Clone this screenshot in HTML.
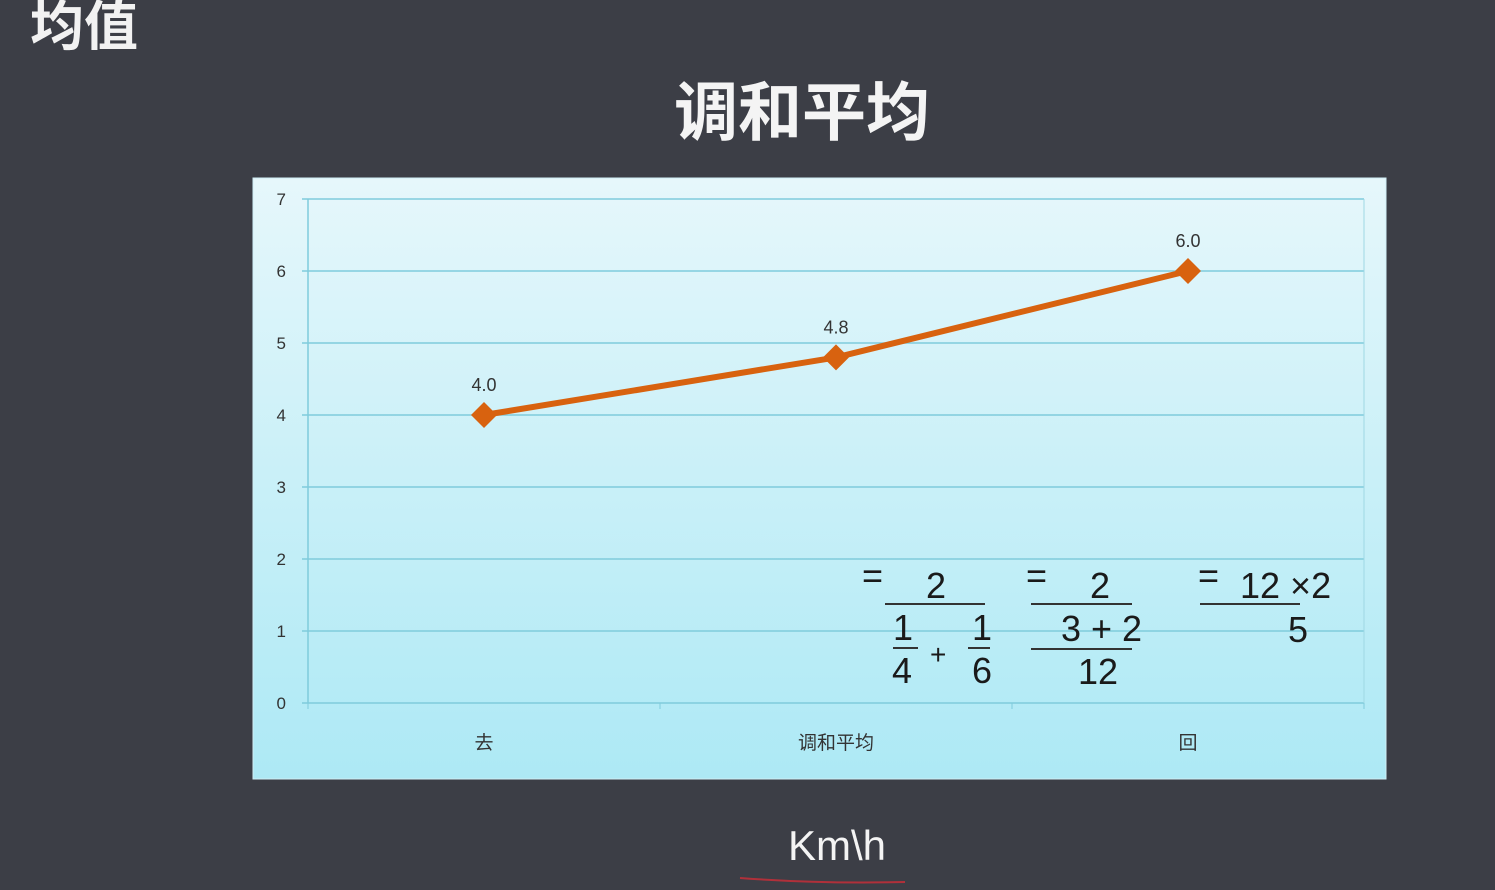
<!DOCTYPE html>
<html><head><meta charset="utf-8"><style>
body{margin:0;width:1495px;height:885px;background:#3c3e46;overflow:hidden;font-family:"Liberation Sans","Noto Sans CJK SC",sans-serif}
</style></head><body>
<svg width="1495" height="885" xmlns="http://www.w3.org/2000/svg">
<defs><linearGradient id="bg" x1="0" y1="0" x2="0" y2="1"><stop offset="0" stop-color="#e6f7fb"/><stop offset="1" stop-color="#ade9f5"/></linearGradient></defs>
<text x="30" y="45" font-size="54" font-weight="bold" fill="#f2f2f2" font-family="Noto Sans CJK SC,sans-serif">均值</text>
<text x="802" y="135" font-size="64" font-weight="bold" fill="#f4f4f4" text-anchor="middle" font-family="Noto Sans CJK SC,sans-serif">调和平均</text>
<rect x="253" y="178" width="1133" height="601" fill="url(#bg)" stroke="#cfeef5"/>
<g id="grid"></g>
<g id="marks"></g>
<g font-family="Liberation Sans,sans-serif" fill="#1a1a1a" font-size="36">
<text x="862" y="588">=</text><text x="926" y="598">2</text>
<line x1="885" y1="604" x2="985" y2="604" stroke="#333" stroke-width="2"/>
<text x="893" y="640">1</text><line x1="893" y1="648" x2="918" y2="648" stroke="#333" stroke-width="2"/>
<text x="892" y="683">4</text><text x="930" y="664" font-size="28">+</text>
<text x="972" y="640">1</text><line x1="968" y1="648" x2="990" y2="648" stroke="#333" stroke-width="2"/>
<text x="972" y="683">6</text>
<text x="1026" y="588">=</text><text x="1090" y="598">2</text>
<line x1="1031" y1="604" x2="1132" y2="604" stroke="#333" stroke-width="2"/>
<text x="1061" y="641">3 + 2</text>
<line x1="1031" y1="649" x2="1132" y2="649" stroke="#333" stroke-width="2"/>
<text x="1078" y="684">12</text>
<text x="1198" y="588">=</text><text x="1240" y="598">12 ×2</text>
<line x1="1200" y1="604" x2="1300" y2="604" stroke="#333" stroke-width="2"/>
<text x="1288" y="642">5</text>
</g>
<text x="837" y="860" font-size="42" fill="#f4f4f4" text-anchor="middle">Km\h</text>
<path d="M740 878 Q820 884 905 882" stroke="#b0303a" stroke-width="2" fill="none"/>
</svg>
<script>
const categories=["去","调和平均","回"];
const values=[4.0,4.8,6.0];
const yTicks=[0,1,2,3,4,5,6,7];
const x0=308,x1=1364,yTop=199,yBot=703,yMax=7;
const NS="http://www.w3.org/2000/svg";
const bw=(x1-x0)/categories.length;
const xs=i=>x0+bw*(i+0.5);
const ys=v=>yBot-(yBot-yTop)*v/yMax;
function mk(t,a,p){const e=document.createElementNS(NS,t);for(const k in a)e.setAttribute(k,a[k]);p.appendChild(e);return e;}
const g=document.getElementById('grid'),m=document.getElementById('marks');
yTicks.forEach(v=>{
 const l=mk('line',{x1:x0-6,x2:x1,y1:ys(v),y2:ys(v),stroke:'#7fcbdc','stroke-width':1.5},g);
 
 
 const t=mk('text',{x:286,y:ys(v)+6,'font-size':17,fill:'#333','text-anchor':'end'},g);t.textContent=v;
 
 
});
mk('line',{x1:x0,x2:x0,y1:yTop,y2:yBot,stroke:'#7fcbdc','stroke-width':1.5},g);
mk('line',{x1:x1,x2:x1,y1:yTop,y2:yBot,stroke:'#9fd8e4','stroke-width':1},g);
for(let i=0;i<=categories.length;i++)mk('line',{x1:x0+bw*i,x2:x0+bw*i,y1:yBot,y2:yBot+6,stroke:'#7fcbdc'},g);
categories.forEach((c,i)=>{
 const t=mk('text',{x:xs(i),y:749,'font-size':19,fill:'#333','text-anchor':'middle','font-family':'Noto Sans CJK SC,sans-serif'},g);t.textContent=c;
 
 
});
const pl=mk('polyline',{points:values.map((v,i)=>xs(i)+','+ys(v)).join(' '),fill:'none',stroke:'#d8620f','stroke-width':6},m);


values.forEach((v,i)=>{
 const x=xs(i),y=ys(v);
 const d=mk('polygon',{points:`${x},${y-13} ${x+13},${y} ${x},${y+13} ${x-13},${y}`,fill:'#d8620f'},m);
 
 
 const t=mk('text',{x:x,y:y-24,'font-size':18,fill:'#333','text-anchor':'middle'},m);t.textContent=v.toFixed(1);
 
 
});
</script>
</body></html>
